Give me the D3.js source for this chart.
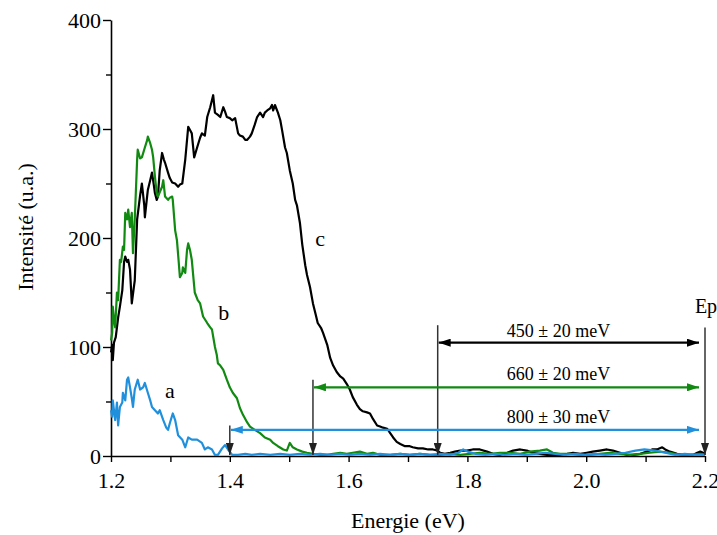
<!DOCTYPE html>
<html><head><meta charset="utf-8">
<script src="https://cdn.jsdelivr.net/npm/d3@7"></script>
<style>
html,body{margin:0;padding:0;background:#fff;}
svg, svg text{font-family:"Liberation Serif","Times New Roman","DejaVu Serif",serif !important;}
</style></head>
<body>
<svg id="chart" width="717" height="535"></svg>
<script>
// ---------- DATA ----------
const energyC = [1.200,1.202,1.203,1.205,1.208,1.212,1.215,1.219,1.222,1.224,1.227,1.229,1.232,1.235,1.239,1.240,1.244,1.249,1.252,1.256,1.257,1.261,1.262,1.266,1.269,1.272,1.274,1.277,1.279,1.282,1.286,1.289,1.291,1.296,1.299,1.303,1.308,1.313,1.316,1.320,1.325,1.330,1.333,1.336,1.340,1.345,1.350,1.353,1.358,1.362,1.367,1.372,1.375,1.380,1.384,1.389,1.392,1.395,1.400,1.404,1.409,1.414,1.417,1.422,1.426,1.429,1.434,1.437,1.442,1.446,1.451,1.456,1.459,1.463,1.468,1.471,1.473,1.476,1.481,1.485,1.488,1.493,1.496,1.501,1.506,1.510,1.513,1.518,1.522,1.527,1.530,1.535,1.540,1.545,1.548,1.554,1.557,1.564,1.569,1.574,1.580,1.586,1.591,1.597,1.602,1.607,1.614,1.619,1.624,1.631,1.636,1.641,1.648,1.653,1.658,1.665,1.670,1.675,1.681,1.687,1.695,1.703,1.708,1.717,1.725,1.734,1.742,1.749,1.754,1.762,1.771,1.779,1.788,1.799,1.809,1.821,1.833,1.843,1.855,1.867,1.877,1.889,1.900,1.910,1.922,1.934,1.944,1.956,1.968,1.978,1.990,2.001,2.011,2.023,2.035,2.045,2.057,2.069,2.079,2.091,2.102,2.111,2.119,2.128,2.133,2.141,2.153,2.166,2.180,2.187,2.192,2.197,2.200];
const intensityC = [95,102,88,104,109,127,137,152,178,183,178,180,171,140,157,161,217,239,250,230,219,239,244,253,260,249,241,235,238,262,278,272,269,260,255,251,250,247,249,250,272,302,299,296,274,283,292,296,294,311,320,331,315,313,311,320,316,311,310,308,310,296,294,293,290,290,293,296,304,311,315,311,315,317,319,322,317,322,315,308,299,283,278,262,250,235,230,214,194,175,166,155,140,129,122,117,113,102,90,83,77,73,71,66,61,54,47,43,41,40,39,34,28,27,26,25,21,17,13,11,9,9,8,7,7,6,6,5,3,2,3,4,5,5,6,6,4,2,1,3,5,6,5,3,2,1,1,1,2,3,2,3,4,5,6,5,3,1,1,2,4,6,6,8,6,4,2,1,1,3,4,3,1];

const energyB = [1.200,1.202,1.203,1.205,1.207,1.210,1.212,1.215,1.217,1.220,1.222,1.224,1.227,1.229,1.232,1.235,1.237,1.240,1.244,1.245,1.249,1.252,1.257,1.261,1.262,1.266,1.269,1.271,1.274,1.277,1.279,1.282,1.286,1.288,1.291,1.296,1.299,1.303,1.304,1.308,1.311,1.314,1.316,1.320,1.321,1.325,1.328,1.330,1.333,1.336,1.341,1.346,1.350,1.355,1.362,1.367,1.370,1.375,1.378,1.380,1.384,1.389,1.395,1.400,1.405,1.412,1.417,1.422,1.429,1.434,1.442,1.451,1.459,1.468,1.473,1.481,1.490,1.496,1.501,1.506,1.513,1.522,1.530,1.540,1.552,1.564,1.574,1.586,1.597,1.607,1.619,1.631,1.641,1.653,1.670,1.687,1.703,1.720,1.737,1.754,1.771,1.788,1.804,1.821,1.838,1.855,1.872,1.889,1.905,1.922,1.934,1.944,1.956,1.973,1.990,2.006,2.023,2.040,2.057,2.074,2.091,2.107,2.124,2.141,2.158,2.175,2.192,2.200];
const intensityB = [106,113,137,125,118,150,143,180,178,192,189,223,217,226,210,223,186,217,272,281,273,274,283,290,293,287,281,274,256,241,238,242,247,253,238,235,237,238,235,207,198,178,164,168,173,168,189,195,189,180,150,143,140,128,122,118,116,100,93,85,83,79,70,63,58,53,44,38,31,27,24,21,17,15,12,9,6,5,12,8,6,4,3,2,1,1,2,3,2,3,4,2,3,1,1,2,1,2,1,1,2,1,2,3,2,3,3,2,4,5,6,3,2,2,1,1,2,3,2,1,2,3,4,3,1,1,2,1];

const energyA = [1.200,1.202,1.203,1.207,1.210,1.212,1.215,1.219,1.220,1.224,1.227,1.229,1.232,1.235,1.237,1.240,1.245,1.249,1.254,1.257,1.262,1.266,1.269,1.274,1.279,1.282,1.288,1.293,1.296,1.299,1.304,1.308,1.313,1.320,1.325,1.330,1.336,1.345,1.353,1.358,1.363,1.370,1.375,1.380,1.387,1.392,1.397,1.404,1.414,1.426,1.437,1.451,1.468,1.485,1.501,1.518,1.535,1.552,1.569,1.586,1.602,1.619,1.636,1.653,1.670,1.687,1.703,1.720,1.737,1.754,1.771,1.785,1.793,1.801,1.813,1.830,1.846,1.863,1.880,1.897,1.914,1.931,1.948,1.965,1.981,1.998,2.015,2.032,2.049,2.066,2.083,2.098,2.116,2.133,2.150,2.166,2.183,2.200];
const intensityA = [42,36,51,33,49,28,45,49,58,51,70,72,63,53,45,61,70,61,63,67,58,51,45,42,39,42,33,26,24,30,39,33,19,15,8,17,15,15,12,6,8,6,1,1,7,10,6,1,1,2,1,2,1,2,1,2,1,2,1,2,1,2,1,2,1,2,1,2,1,2,1,3,6,4,2,1,2,1,2,1,2,3,2,1,2,1,2,1,2,3,5,6,5,3,1,2,1,1];

const seriesNames = ["c","b","a"];
const seriesColors = ["#000000","#118a11","#2190dc"];

const xTicks = [1.2,1.3,1.4,1.5,1.6,1.7,1.8,1.9,2.0,2.1,2.2];
const xTickLabels = ["1.2","","1.4","","1.6","","1.8","","2.0","","2.2"];
const yTicks = [0,50,100,150,200,250,300,350,400];
const yTickLabels = ["0","","100","","200","","300","","400"];

// curve label positions (energy, intensity)
const labelEnergy = [1.552, 1.390, 1.299];
const labelIntensity = [193, 125, 53];

// threshold annotations: onset energy, line top, arrow level, text
const onsetEnergy = [1.75, 1.54, 1.40];
const onsetTop = [120, 70, 28];
const arrowLevel = [104, 63, 24];
const gapText = ["450 \u00B1 20 meV", "660 \u00B1 20 meV", "800 \u00B1 30 meV"];
const gapTextLevel = [109, 70, 30];
const epEnergy = 2.2, epTop = 118, epLabel = "Ep";

// ---------- CHART ----------
const FONT = "'Liberation Serif','Times New Roman','DejaVu Serif',serif";
const svg = d3.select("#chart");
const W = 717, H = 535;
const m = {left:111, right:12, top:20, bottom:79};
const x = d3.scaleLinear().domain([1.2,2.2]).range([m.left, W-m.right]);
const y = d3.scaleLinear().domain([0,400]).range([H-m.bottom, m.top]);

const defs = svg.append("defs");
function marker(id, color, orient){
  defs.append("marker").attr("id",id).attr("viewBox","0 0 12 8")
    .attr("refX",12).attr("refY",4).attr("markerWidth",12).attr("markerHeight",8)
    .attr("markerUnits","userSpaceOnUse").attr("orient",orient)
    .append("path").attr("d","M0,0 L12,4 L0,8 Z").attr("fill",color);
}
seriesColors.forEach((c,i)=>{ marker("ah"+i, c, "auto"); marker("as"+i, c, "auto-start-reverse"); });
marker("down", "#222", "auto");

// axes
const xAxis = d3.axisBottom(x).tickValues(xTicks).tickSize(6).tickSizeOuter(0)
  .tickFormat((d,i)=>xTickLabels[i]);
const gx = svg.append("g").attr("transform",`translate(0,${y(0)})`).call(xAxis);
gx.attr("font-family",FONT);
gx.select(".domain").attr("stroke","#000").attr("stroke-width",1.6);
gx.selectAll(".tick line").attr("stroke","#000").attr("stroke-width",1.4);
gx.selectAll(".tick text").attr("font-size",22).attr("fill","#000").attr("dy","1.05em")
  .style("font-family",FONT);

const yAxis = d3.axisLeft(y).tickValues(yTicks).tickSizeOuter(0)
  .tickFormat((d,i)=>yTickLabels[i]);
const gy = svg.append("g").attr("transform",`translate(${x(1.2)},0)`).call(yAxis);
gy.attr("font-family",FONT);
gy.select(".domain").attr("stroke","#000").attr("stroke-width",1.6);
gy.selectAll(".tick line").attr("stroke","#000").attr("stroke-width",1.4)
  .attr("x2",(d,i)=> yTickLabels[i] ? -8 : -5);
gy.selectAll(".tick text").attr("font-size",22).attr("fill","#000").attr("x",-10)
  .style("font-family",FONT);

// axis titles
svg.append("text").attr("x",(x(1.2)+x(2.2))/2).attr("y",528).attr("text-anchor","middle")
  .style("font-family",FONT).attr("font-size",22).text("Energie (eV)");
svg.append("text").attr("transform","translate(33,227) rotate(-90)").attr("text-anchor","middle")
  .style("font-family",FONT).attr("font-size",22).text("Intensit\u00E9 (u.a.)");

// series
const allE = [energyC, energyB, energyA];
const allI = [intensityC, intensityB, intensityA];
const line = d3.line().x(d=>x(d[0])).y(d=>y(d[1]));
allE.forEach((es,k)=>{
  const pts = es.map((e,i)=>[e, allI[k][i]]);
  svg.append("path").datum(pts).attr("d",line).attr("fill","none")
    .attr("stroke",seriesColors[k]).attr("stroke-width",2.2).attr("stroke-linejoin","round");
});

// curve labels
seriesNames.forEach((n,i)=>{
  svg.append("text").attr("x",x(labelEnergy[i])).attr("y",y(labelIntensity[i]))
    .attr("text-anchor","middle").style("font-family",FONT).attr("font-size",22).text(n);
});

// annotations
onsetEnergy.forEach((e,i)=>{
  svg.append("line").attr("x1",x(e)).attr("x2",x(e)).attr("y1",y(onsetTop[i])).attr("y2",y(0)-1)
    .attr("stroke","#333").attr("stroke-width",1.5).attr("marker-end","url(#down)");
  svg.append("line").attr("x1",x(e)+1).attr("x2",x(epEnergy)-6).attr("y1",y(arrowLevel[i])).attr("y2",y(arrowLevel[i]))
    .attr("stroke",seriesColors[i]).attr("stroke-width",2.2)
    .attr("marker-end",`url(#ah${i})`).attr("marker-start",`url(#as${i})`);
  svg.append("text").attr("x",x(1.95)+2).attr("y",y(gapTextLevel[i])).attr("text-anchor","middle")
    .style("font-family",FONT).attr("font-size",18).text(gapText[i]);
});
svg.append("line").attr("x1",x(epEnergy)).attr("x2",x(epEnergy)).attr("y1",y(epTop)).attr("y2",y(0)-1)
  .attr("stroke","#333").attr("stroke-width",1.5).attr("marker-end","url(#down)");
svg.append("text").attr("x",x(2.183)).attr("y",y(131)).style("font-family",FONT).attr("font-size",20).text(epLabel);
</script>
</body></html>
